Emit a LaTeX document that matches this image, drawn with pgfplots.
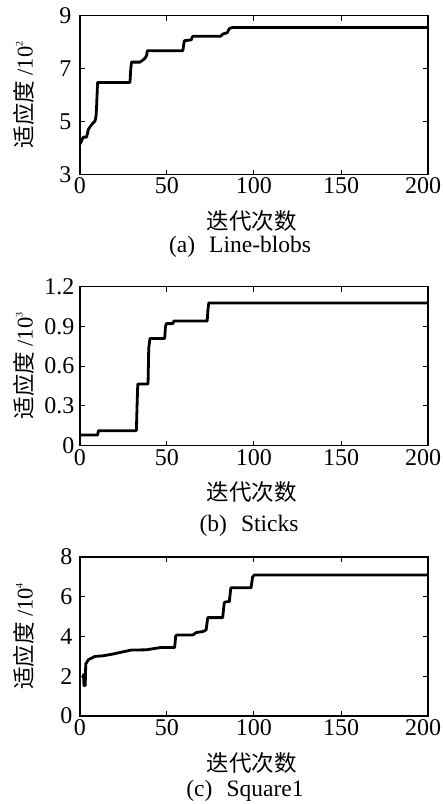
\documentclass[border=0pt]{standalone}
\usepackage{fontspec}
\setmainfont{Liberation Serif}
\newfontfamily\cjk{Noto Sans CJK SC}
\usepackage{pgfplots}
\pgfplotsset{compat=1.18}

\pgfplotsset{
  fitstyle/.style={
    scale only axis, width=348pt, height=159pt,
    anchor=south west,
    xmin=0, xmax=200, xtick={0,50,...,200},
    xticklabels={0,50,100,150,{\hspace*{-10pt}200}},
    tick align=inside, major tick length=5pt,
    axis line style={line width=1.3pt},
    every tick/.style={black, line width=1pt},
    tick label style={font=\fontsize{24}{26}\selectfont},
    /pgf/number format/assume math mode=true,
    xlabel={\cjk 迭代次数},
    xlabel style={font=\fontsize{22.5}{24}\selectfont, at={(axis description cs:0.494,-0.295)}, anchor=center},
    ylabel style={font=\fontsize{22.5}{24}\selectfont, at={(axis description cs:-0.161,0.5)}, anchor=center},
  },
  fitline/.style={black, line width=2.8pt, line join=round, mark=none},
}

\begin{document}
\begin{tikzpicture}
\useasboundingbox (0,0) rectangle (443pt,-804pt);

% (a) Line-blobs
\begin{axis}[fitstyle, at={(80pt,-174.5pt)},
    ymin=3, ymax=9, ytick={3,5,7,9},
    yticklabel style={xshift=-5pt},
    ylabel={{\cjk 适应度} /10\raisebox{10pt}{\fontsize{10}{10}\selectfont 2}}]
\addplot[fitline] coordinates {
  (0,4.15) (0.5,4.22) (1.9,4.41) (3.8,4.41) (4.8,4.70) (6.3,4.85)
  (7.6,4.95) (8.6,5.01) (9.2,5.2) (9.5,5.51) (10.1,6.47) (28.7,6.47)
  (29.2,7.0) (29.6,7.24) (34.4,7.24) (36.2,7.32) (37.6,7.41) (38.3,7.5)
  (38.7,7.67) (59.1,7.67) (59.6,7.9) (60.0,8.05) (63.9,8.08) (64.6,8.2)
  (65.3,8.22) (80.8,8.22) (82.1,8.3) (84.6,8.35) (85.9,8.51) (87.8,8.55)
  (200,8.55)
};
\end{axis}
\node[font=\fontsize{23.5}{26}\selectfont] at (240pt,-247pt) {(a)\hspace{0.6em}Line-blobs};

% (b) Sticks
\begin{axis}[fitstyle, at={(80pt,-445.5pt)},
    ymin=0, ymax=1.2, ytick={0,0.3,0.6,0.9,1.2},
    yticklabels={0,0.3,0.6,0.9,1.2},
    yticklabel style={xshift=-2pt},
    ylabel={{\cjk 适应度} /10\raisebox{10pt}{\fontsize{10}{10}\selectfont 3}}]
\addplot[fitline] coordinates {
  (0,0.079) (10.1,0.079) (10.6,0.112) (32.4,0.112) (32.8,0.30) (33.2,0.464)
  (39.1,0.464) (39.5,0.733) (40.2,0.808) (48.7,0.808) (49.1,0.895) (49.6,0.92)
  (53.4,0.92) (54.0,0.94) (73.1,0.94) (73.5,1.02) (74.0,1.076) (200,1.076)
};
\end{axis}
\node[font=\fontsize{23.5}{26}\selectfont] at (249pt,-526pt) {(b)\hspace{0.6em}Sticks};

% (c) Square1
\begin{axis}[fitstyle, at={(80pt,-716pt)},
    ymin=0, ymax=8, ytick={0,2,4,6,8},
    yticklabel style={xshift=-4pt},
    ylabel={{\cjk 适应度} /10\raisebox{10pt}{\fontsize{10}{10}\selectfont 4}}]
\addplot[fitline] coordinates {
  (1.3,2.07) (2.0,2.07) (2.3,1.53) (3.0,1.53) (3.3,2.62) (4.8,2.83)
  (6.3,2.9) (8.6,3.0) (13.4,3.03) (19.0,3.12) (24.7,3.23) (29.5,3.32)
  (38.0,3.33) (40.9,3.37) (46.6,3.45) (54.4,3.45) (55.0,4.03) (55.7,4.08)
  (64.9,4.08) (66.8,4.2) (70.6,4.25) (72.5,4.33) (73.4,4.95) (82.0,4.95)
  (82.9,5.7) (83.9,5.75) (85.8,5.75) (86.7,6.45) (98.3,6.45) (99.2,7.0)
  (100.2,7.1) (200,7.1)
};
\end{axis}
\node[font=\fontsize{23.5}{26}\selectfont] at (245pt,-791pt) {(c)\hspace{0.6em}Square1};
\end{tikzpicture}
\end{document}
